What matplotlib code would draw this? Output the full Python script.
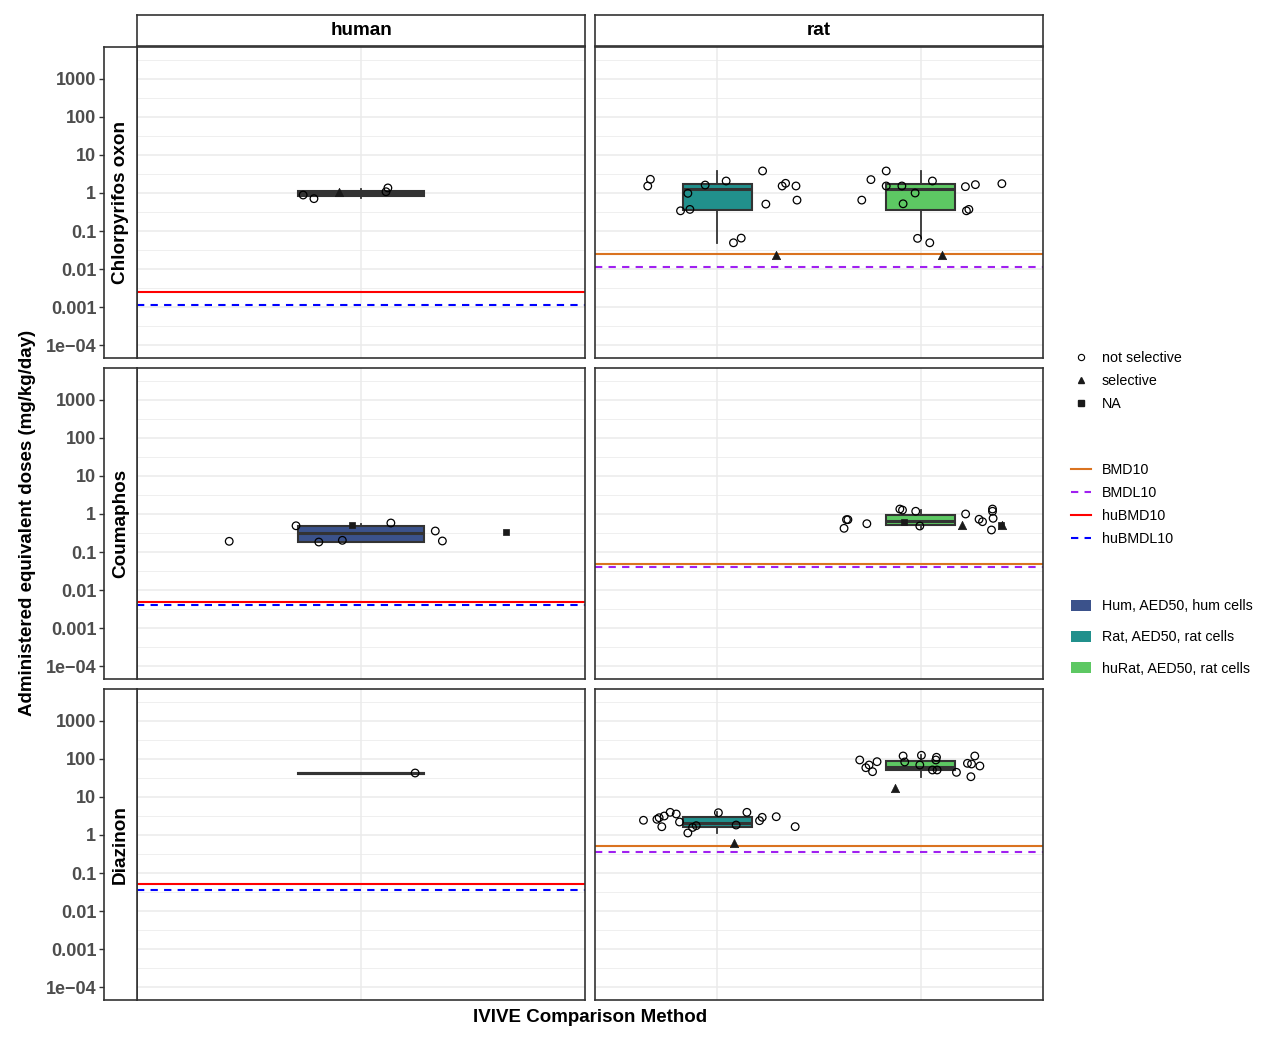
import numpy as np
import matplotlib
matplotlib.use("Agg")
import matplotlib.pyplot as plt
from matplotlib.lines import Line2D
from matplotlib.patches import Patch

plt.rcParams['font.family'] = ['Liberation Sans', 'DejaVu Sans']

chemicals = ["Chlorpyrifos oxon", "Coumaphos", "Diazinon"]
species = ["human", "rat"]
methods = ["Hum, AED50, hum cells", "Rat, AED50, rat cells", "huRat, AED50, rat cells"]
method_colors = ["#3B528B", "#21908C", "#5DC863"]

# benchmark doses, one value per chemical
bmd10 = [0.0248, 0.0483, 0.514]
bmdl10 = [0.0113, 0.0403, 0.357]
hu_bmd10 = [0.00248, 0.00483, 0.0514]
hu_bmdl10 = [0.00113, 0.00403, 0.0357]

ytick_vals = [1e3, 1e2, 1e1, 1, 0.1, 0.01, 0.001, 1e-4]
ytick_labels = ["1000", "100", "10", "1", "0.1", "0.01", "0.001", "1e\u221204"]

# box stats: whislo, q1, med, q3, whishi
cpo_hum_box = [0.72, 0.85, 1.0, 1.12, 1.25]
cpo_rat_box = [0.049, 0.35, 1.27, 1.69, 3.8]
cpo_hurat_box = [0.064, 0.35, 1.27, 1.69, 3.8]
cou_hum_box = [0.18, 0.187, 0.32, 0.49, 0.545]
cou_hurat_box = [0.43, 0.50, 0.667, 0.925, 1.27]
dia_hum_box = [41.5, 41.5, 42.8, 44.0, 44.0]
dia_rat_box = [1.15, 1.65, 2.03, 3.03, 4.1]
dia_hurat_box = [34.2, 51.4, 62.8, 88.6, 127]

# individual AED50 values, horizontal jitter and selectivity
# shape: o = not selective, ^ = selective, s = NA
cpo_hum_vals = [0.885, 0.71, 1.08, 1.08, 1.36]
cpo_hum_jit = [-0.155, -0.126, -0.059, 0.067, 0.072]
cpo_hum_shape = "oo^oo"

cpo_rat_vals = [1.53, 2.29, 0.98, 0.37, 0.34, 1.62, 2.07, 0.049, 0.065, 3.8,
                0.51, 1.53, 1.8, 1.53, 0.65, 0.024]
cpo_rat_jit = [-0.341, -0.328, -0.144, -0.134, -0.180, -0.059, 0.044, 0.080, 0.118, 0.223,
               0.239, 0.319, 0.336, 0.387, 0.392, 0.288]
cpo_rat_shape = "ooooooooooooooo^"

cpo_hurat_vals = [0.65, 2.25, 3.8, 1.53, 1.53, 0.52, 1.0, 0.064, 0.049, 2.07,
                  1.47, 1.66, 1.76, 0.34, 0.37, 0.024]
cpo_hurat_jit = [-0.29, -0.245, -0.17, -0.17, -0.093, -0.087, -0.028, -0.016, 0.044, 0.057,
                 0.219, 0.268, 0.398, 0.224, 0.236, 0.102]
cpo_hurat_shape = "ooooooooooooooo^"

cou_hum_vals = [0.191, 0.49, 0.183, 0.203, 0.51, 0.58, 0.357, 0.195, 0.33]
cou_hum_jit = [-0.353, -0.174, -0.113, -0.05, -0.024, 0.08, 0.199, 0.218, 0.389]
cou_hum_shape = "oooosooos"

cou_hurat_vals = [0.42, 0.71, 0.71, 0.556, 1.35, 1.27, 1.18, 0.483, 1.0, 0.726,
                  0.627, 1.35, 1.18, 0.77, 0.38, 0.605, 0.51, 0.51, 0.51]
cou_hurat_jit = [-0.377, -0.365, -0.358, -0.265, -0.103, -0.09, -0.025, -0.005, 0.22, 0.286,
                 0.303, 0.352, 0.352, 0.355, 0.347, -0.083, 0.203, 0.401, 0.395]
cou_hurat_shape = "ooooooooooooooos^^s"

dia_hum_vals = [42.8]
dia_hum_jit = [0.145]
dia_hum_shape = "o"

dia_rat_vals = [2.44, 2.59, 2.85, 1.65, 3.16, 3.95, 3.57, 2.2, 1.13, 1.58,
                1.76, 3.86, 1.83, 3.95, 2.38, 2.92, 3.03, 1.66, 0.627]
dia_rat_jit = [-0.362, -0.296, -0.285, -0.272, -0.26, -0.231, -0.201, -0.185, -0.144, -0.121,
               -0.103, 0.006, 0.093, 0.146, 0.208, 0.221, 0.29, 0.383, 0.083]
dia_rat_shape = "oooooooooooooooooo^"

dia_hurat_vals = [94.2, 59, 69.5, 46.4, 85, 120, 83.4, 125, 69.5, 111,
                  94.2, 51.4, 51.4, 44.6, 77, 73.9, 120, 65.5, 34.2, 17.6]
dia_hurat_jit = [-0.3, -0.27, -0.254, -0.237, -0.215, -0.087, -0.079, 0.003, -0.005, 0.077,
                 0.074, 0.057, 0.08, 0.175, 0.229, 0.249, 0.265, 0.29, 0.246, -0.126]
dia_hurat_shape = "ooooooooooooooooooo^"

# (row, col) -> list of (x position, method index, box, values, jitter, shapes)
groups = {
    (0, 0): [(1, 0, cpo_hum_box, cpo_hum_vals, cpo_hum_jit, cpo_hum_shape)],
    (0, 1): [(1, 1, cpo_rat_box, cpo_rat_vals, cpo_rat_jit, cpo_rat_shape),
             (2, 2, cpo_hurat_box, cpo_hurat_vals, cpo_hurat_jit, cpo_hurat_shape)],
    (1, 0): [(1, 0, cou_hum_box, cou_hum_vals, cou_hum_jit, cou_hum_shape)],
    (1, 1): [(2, 2, cou_hurat_box, cou_hurat_vals, cou_hurat_jit, cou_hurat_shape)],
    (2, 0): [(1, 0, dia_hum_box, dia_hum_vals, dia_hum_jit, dia_hum_shape)],
    (2, 1): [(1, 1, dia_rat_box, dia_rat_vals, dia_rat_jit, dia_rat_shape),
             (2, 2, dia_hurat_box, dia_hurat_vals, dia_hurat_jit, dia_hurat_shape)],
}

W, H = 1268, 1039
fig = plt.figure(figsize=(W / 100, H / 100), dpi=100)


def rect(x0, y0, x1, y1):
    return [x0 / W, 1 - y1 / H, (x1 - x0) / W, (y1 - y0) / H]


col_x = [(137, 585), (595, 1043)]
row_y = [(47, 358), (368, 679), (689, 1000)]
ylim = (10 ** -4.342, 10 ** 3.842)
xlims = [(0.4, 1.6), (0.4, 2.6)]
edge = "#333333"
grid_col = "#EBEBEB"
minor_vals = [10 ** (k + 0.5) for k in range(-5, 4)]

marker_kw = {
    "o": dict(marker="o", s=30, facecolors="none", edgecolors="black", linewidths=0.9),
    "^": dict(marker="^", s=36, facecolors="#1a1a1a", edgecolors="#1a1a1a", linewidths=0.5),
    "s": dict(marker="s", s=24, facecolors="#1a1a1a", edgecolors="#1a1a1a", linewidths=0.5),
}
dash = (0, (3.5, 3))

for r in range(3):
    for c in range(2):
        x0, x1 = col_x[c]
        y0, y1 = row_y[r]
        ax = fig.add_axes(rect(x0, y0, x1, y1))
        ax.set_yscale("log")
        ax.set_yticks(ytick_vals)
        ax.set_yticks(minor_vals, minor=True)
        ax.set_yticklabels([])
        ax.set_xticks([1] if c == 0 else [1, 2])
        ax.set_xticklabels([])
        # limits after the ticks, so the half-decade grid does not widen them
        ax.set_ylim(*ylim)
        ax.set_xlim(*xlims[c])
        ax.tick_params(which="both", length=0)
        ax.grid(which="major", color=grid_col, lw=1.1, zorder=0)
        ax.grid(which="minor", axis="y", color=grid_col, lw=0.55, zorder=0)
        ax.set_axisbelow(True)
        for sp in ax.spines.values():
            sp.set_color(edge)
            sp.set_linewidth(1.2)

        if c == 0:
            ax.axhline(hu_bmd10[r], color="red", lw=1.5, zorder=1)
            ax.axhline(hu_bmdl10[r], color="blue", lw=1.5, ls=dash, zorder=1)
        else:
            ax.axhline(bmd10[r], color="#DA7320", lw=1.5, zorder=1)
            ax.axhline(bmdl10[r], color="#A020F0", lw=1.5, ls=dash, zorder=1)

        for pos, m, box, vals, jit, shapes in groups[(r, c)]:
            stats = [dict(whislo=box[0], q1=box[1], med=box[2], q3=box[3],
                          whishi=box[4], fliers=[])]
            ax.bxp(stats, positions=[pos], widths=0.3375, patch_artist=True,
                   showcaps=False, manage_ticks=False,
                   boxprops=dict(facecolor=method_colors[m], edgecolor=edge, lw=1.5),
                   medianprops=dict(color=edge, lw=2.2),
                   whiskerprops=dict(color=edge, lw=1.3), zorder=2)
            xs = np.array(jit) + pos
            vs = np.array(vals)
            sh = np.array(list(shapes))
            for key, kw in marker_kw.items():
                sel = sh == key
                if sel.any():
                    ax.scatter(xs[sel], vs[sel], zorder=3, **kw)
        ax.set_ylim(*ylim)
        ax.set_xlim(*xlims[c])

        if r == 0:
            sax = fig.add_axes(rect(x0, 15, x1, 46))
            sax.set_xticks([])
            sax.set_yticks([])
            for sp in sax.spines.values():
                sp.set_color(edge)
                sp.set_linewidth(1.2)
            sax.text(0.5, 0.5, species[c], ha="center", va="center",
                     fontsize=13.6, fontweight="bold", transform=sax.transAxes)

        if c == 0:
            rax = fig.add_axes(rect(104, y0, 137, y1))
            rax.set_yscale("log")
            rax.set_yticks(ytick_vals)
            rax.set_yticklabels(ytick_labels)
            rax.set_ylim(*ylim)
            rax.yaxis.set_minor_locator(matplotlib.ticker.NullLocator())
            rax.set_xticks([])
            rax.tick_params(axis="y", length=3.5, width=1, color=edge, pad=2,
                            labelsize=13, labelcolor="#4D4D4D")
            for lab in rax.get_yticklabels():
                lab.set_fontweight("bold")
            for sp in rax.spines.values():
                sp.set_color(edge)
                sp.set_linewidth(1.2)
            rax.text(0.5, 0.5, chemicals[r], ha="center", va="center", rotation=90,
                     fontsize=13.6, fontweight="bold", transform=rax.transAxes)

fig.text(28 / W, 1 - 523 / H, "Administered equivalent doses (mg/kg/day)",
         rotation=90, ha="center", va="center", fontsize=13.5, fontweight="bold")
fig.text(590 / W, 1 - 1017 / H, "IVIVE Comparison Method",
         ha="center", va="center", fontsize=13.5, fontweight="bold")

shape_handles = [
    Line2D([], [], marker="o", ls="none", mfc="none", mec="black", ms=4.5, mew=0.8),
    Line2D([], [], marker="^", ls="none", mfc="#1a1a1a", mec="#1a1a1a", ms=5),
    Line2D([], [], marker="s", ls="none", mfc="#1a1a1a", mec="#1a1a1a", ms=4.5),
]
shape_labels = ["not selective", "selective", "NA"]
line_handles = [
    Line2D([], [], color="#DA7320", lw=1.5),
    Line2D([], [], color="#A020F0", lw=1.5, ls=dash),
    Line2D([], [], color="red", lw=1.5),
    Line2D([], [], color="blue", lw=1.5, ls=dash),
]
line_labels = ["BMD10", "BMDL10", "huBMD10", "huBMDL10"]
box_handles = [Patch(facecolor=col, edgecolor="none") for col in method_colors]

leg_kw = dict(loc="upper left", frameon=False, fontsize=10.3, handlelength=1.4,
              handletextpad=0.75, borderpad=0, borderaxespad=0)
fig.legend(shape_handles, shape_labels, bbox_to_anchor=(1071 / W, 1 - 351 / H),
           labelspacing=0.62, **leg_kw)
fig.legend(line_handles, line_labels, bbox_to_anchor=(1071 / W, 1 - 463 / H),
           labelspacing=0.62, **leg_kw)
fig.legend(box_handles, methods, bbox_to_anchor=(1071 / W, 1 - 599 / H),
           labelspacing=1.22, handleheight=0.8, **leg_kw)

fig.savefig("out.png", dpi=100)
